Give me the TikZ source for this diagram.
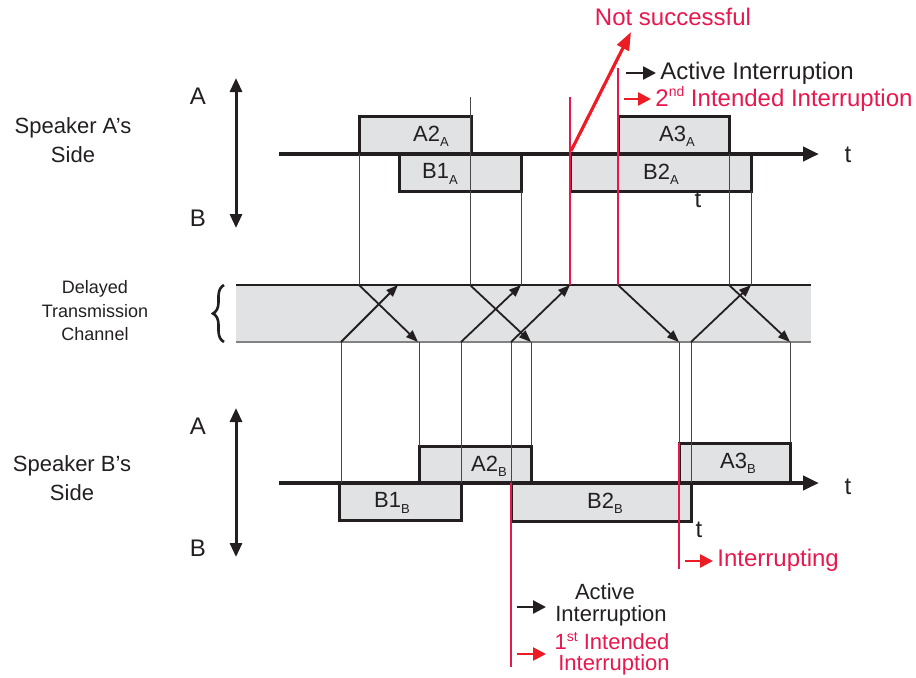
\documentclass[tikz,border=0pt]{standalone}
\usepackage{fontspec}
\setmainfont{Liberation Sans}
\usetikzlibrary{arrows.meta,decorations.pathreplacing}
\definecolor{txt}{RGB}{35,31,32}
\definecolor{crim}{RGB}{232,24,78}
\definecolor{ared}{RGB}{237,28,36}
\definecolor{boxgray}{RGB}{225,226,228}
\definecolor{guidec}{RGB}{70,70,70}
\definecolor{chanbot}{RGB}{130,130,130}
\newcommand{\sub}[1]{\raisebox{-0.45ex}{\fontsize{6.5}{6.5}\selectfont #1}}
\newcommand{\sups}[1]{\raisebox{0.75ex}{\fontsize{7}{7}\selectfont #1}}
\begin{document}
\begin{tikzpicture}[x=0.5pt,y=-0.5pt,
  box/.style={draw=txt, fill=boxgray, line width=1.5pt},
  axisline/.style={draw=txt, line width=2pt, -{Triangle[length=8pt,width=7pt]}},
  dbl/.style={draw=txt, line width=1.5pt, {Triangle[length=7pt,width=6pt]}-{Triangle[length=7pt,width=6pt]}},
  guide/.style={draw=guidec, line width=0.45pt},
  redguide/.style={draw=crim, line width=1pt},
  chan/.style={draw=txt, line width=0.9pt, -{Triangle[length=6pt,width=4.5pt]}},
  legk/.style={draw=txt, line width=1.2pt, -{Triangle[length=6.5pt,width=6.5pt]}},
  legr/.style={draw=ared, line width=1.2pt, -{Triangle[length=6.5pt,width=6.5pt]}},
  big/.style={font=\fontsize{12}{12}\selectfont, text=txt, inner sep=0pt},
  bigred/.style={font=\fontsize{12}{12}\selectfont, text=crim, inner sep=0pt},
  mid/.style={font=\fontsize{11}{11}\selectfont, text=txt, inner sep=0pt},
  midred/.style={font=\fontsize{11}{11}\selectfont, text=crim, inner sep=0pt},
  side/.style={font=\fontsize{11}{11}\selectfont, text=txt, inner sep=0pt},
  small/.style={font=\fontsize{9}{9}\selectfont, text=txt, inner sep=0pt},
  blab/.style={font=\fontsize{11}{11}\selectfont, text=txt, inner sep=0pt}
]
\useasboundingbox (0,0) rectangle (916,677);

% channel
\fill[boxgray] (236,285) rectangle (811,342);
\draw[txt, line width=0.7pt] (236,285) -- (811,285);
\draw[chanbot, line width=0.9pt] (236,342) -- (811,342);
\draw[txt, line width=1.3pt, decorate, decoration={brace, amplitude=5.5pt}] (224,342) -- (224,285);

% left labels
\node[side] (spA1) at (73,128) {Speaker A’s};
\node[side] (spA2) at (73,155) {Side};
\node[side] (spB1) at (72,466) {Speaker B’s};
\node[side] (spB2) at (72,493) {Side};
\node[small] (d1) at (95,289) {Delayed};
\node[small] (d2) at (95,311) {Transmission};
\node[small] (d3) at (95,334) {Channel};
\node[big] (lA1) at (198,96) {A};
\node[big] (lB1) at (198,218) {B};
\node[big] (lA2) at (198,426) {A};
\node[big] (lB2) at (198,548) {B};
\draw[dbl] (236,78) -- (236,228);
\draw[dbl] (236,408) -- (236,557);

% top boxes
\draw[box] (359,116) rectangle (471,154);
\draw[box] (399,154) rectangle (521,191);
\draw[box] (570,154) rectangle (751,191);
\draw[box] (618,116) rectangle (729,154);
\node[blab] at (431,136) {A2\sub{A}};
\node[blab] at (440,174) {B1\sub{A}};
\node[blab] at (661,174) {B2\sub{A}};
\node[blab] at (677,136) {A3\sub{A}};

% bottom boxes
\draw[box] (419,446) rectangle (531,483);
\draw[box] (339,483) rectangle (461,520);
\draw[box] (511,483) rectangle (691,521);
\draw[box] (679,443) rectangle (790,483);
\node[blab] at (489,466) {A2\sub{B}};
\node[blab] at (392,503) {B1\sub{B}};
\node[blab] at (605,503) {B2\sub{B}};
\node[blab] at (738,463) {A3\sub{B}};

% axes
\draw[axisline] (279,154) -- (819,154);
\draw[axisline] (279,483) -- (819,483);
\node[big] (t1) at (848,155) {t};
\node[big] (t2) at (848,487) {t};
\node[big] (t3) at (698,200) {t};
\node[big] (t4) at (699,530) {t};

% top guides
\draw[guide] (359,154) -- (359,285);
\draw[guide] (470,97) -- (470,285);
\draw[guide] (521,191) -- (521,285);
\draw[guide] (729,154) -- (729,285);
\draw[guide] (751,191) -- (751,285);
\draw[redguide] (570,97) -- (570,285);
\draw[redguide] (618,68) -- (618,285);

% bottom guides
\draw[guide] (341,342) -- (341,483);
\draw[guide] (419,342) -- (419,446);
\draw[guide] (461,342) -- (461,483);
\draw[guide] (511,342) -- (511,483);
\draw[guide] (531,342) -- (531,446);
\draw[guide] (679,342) -- (679,443);
\draw[guide] (691,342) -- (691,483);
\draw[guide] (790,342) -- (790,443);
\draw[redguide] (511,483) -- (511,667);
\draw[redguide] (679,443) -- (679,569);

% channel arrows
\draw[chan] (359,285) -- (418,342);
\draw[chan] (341,342) -- (398,285);
\draw[chan] (470,285) -- (531,342);
\draw[chan] (461,342) -- (521,285);
\draw[chan] (511,342) -- (570,285);
\draw[chan] (618,285) -- (679,342);
\draw[chan] (691,342) -- (751,285);
\draw[chan] (729,285) -- (790,342);

% not successful
\node[bigred] (ns) at (673,17) {Not successful};
\draw[draw=ared, line width=1.6pt, -{Triangle[length=9pt,width=6.5pt]}] (571,151) -- (631,32);

% top legend
\coordinate (k1s) at (626,73); \coordinate (k1e) at (656,73);
\draw[legk] (k1s) -- (k1e);
\node[big, anchor=west] (ai1) at (660,73) {Active Interruption};
\coordinate (r1s) at (624,99); \coordinate (r1e) at (651,99);
\draw[legr] (r1s) -- (r1e);
\node[bigred, anchor=west] (ii2) at (655,99) {2\sups{nd} Intended Interruption};

% bottom legend
\coordinate (r2s) at (685,561); \coordinate (r2e) at (713,561);
\draw[legr] (r2s) -- (r2e);
\node[bigred, anchor=west] (intr) at (717,560) {Interrupting};
\node[mid] (ac) at (605,592) {Active};
\node[mid] (ai2) at (611,616) {Interruption};
\coordinate (k2s) at (517,607); \coordinate (k2e) at (546,607);
\draw[legk] (k2s) -- (k2e);
\node[midred] (ii1a) at (612,641) {1\sups{st} Intended};
\node[midred] (ii1b) at (614,665) {Interruption};
\coordinate (r3s) at (517,654); \coordinate (r3e) at (546,654);
\draw[legr] (r3s) -- (r3e);
\end{tikzpicture}
\end{document}
